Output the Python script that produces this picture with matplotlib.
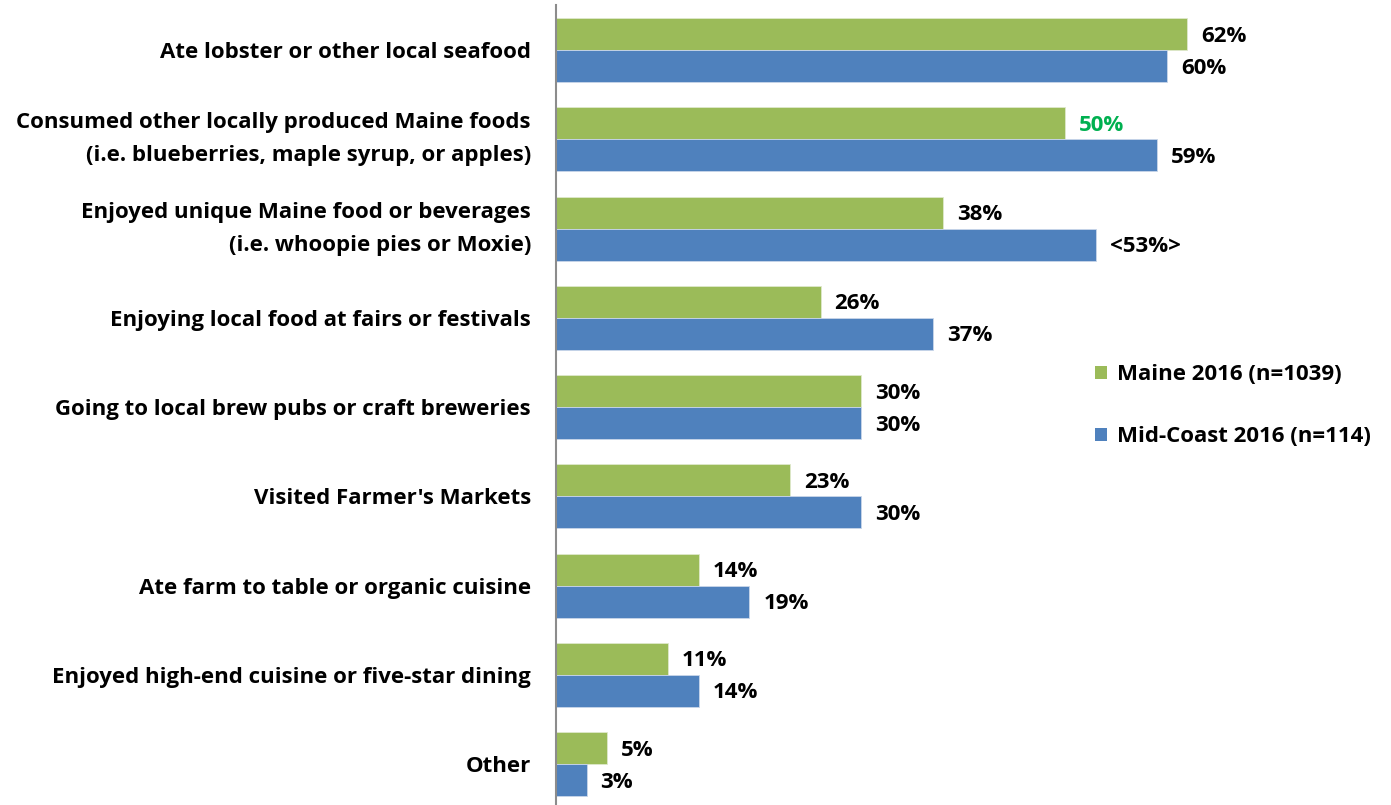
import numpy as np
import matplotlib
matplotlib.use("Agg")
import matplotlib.pyplot as plt
from matplotlib.patches import Patch

plt.rcParams["font.family"] = ["Open Sans", "DejaVu Sans"]
plt.rcParams["font.weight"] = "bold"

# ── data ────────────────────────────────────────────────────────────────────
categories = [
    "Ate lobster or other local seafood",
    "Consumed other locally produced Maine foods\n(i.e. blueberries, maple syrup, or apples)",
    "Enjoyed unique Maine food or beverages\n(i.e. whoopie pies or Moxie)",
    "Enjoying local food at fairs or festivals",
    "Going to local brew pubs or craft breweries",
    "Visited Farmer's Markets",
    "Ate farm to table or organic cuisine",
    "Enjoyed high-end cuisine or five-star dining",
    "Other",
]
maine = [62, 50, 38, 26, 30, 23, 14, 11, 5]
midcoast = [60, 59, 53, 37, 30, 30, 19, 14, 3]
maine_labels = ["62%", "50%", "38%", "26%", "30%", "23%", "14%", "11%", "5%"]
midcoast_labels = ["60%", "59%", "<53%>", "37%", "30%", "30%", "19%", "14%", "3%"]
series_names = ["Maine 2016 (n=1039)", "Mid-Coast 2016 (n=114)"]

GREEN = "#9BBB59"
BLUE = "#4F81BD"
LABEL_GREEN = "#00B050"
FS = 16

# ── figure ──────────────────────────────────────────────────────────────────
fig = plt.figure(figsize=(13.91, 8.05), dpi=100)
ax = fig.add_axes([0.3997, 0.0, 0.6003, 0.9933])

y = np.arange(len(categories))
h = 0.3585
ax.barh(y - h / 2, maine, h, color=GREEN, edgecolor="#dfe8cc", linewidth=0.6)
ax.barh(y + h / 2, midcoast, h, color=BLUE, edgecolor="#c9d6ea", linewidth=0.6)

# value labels just past the bar ends
for i, (v, lab) in enumerate(zip(maine, maine_labels)):
    ax.annotate(lab, (v, i - h / 2), xytext=(10, -1.5), textcoords="offset points",
                ha="left", va="center", fontsize=FS, fontweight="bold",
                color=LABEL_GREEN if lab == "50%" else "black")
for i, (v, lab) in enumerate(zip(midcoast, midcoast_labels)):
    ax.annotate(lab, (v, i + h / 2), xytext=(10, -1.5), textcoords="offset points",
                ha="left", va="center", fontsize=FS, fontweight="bold",
                color="black")

ax.set_xlim(0, 82)
ax.set_ylim(8.459, -0.5)
ax.set_xticks([])
ax.set_yticks(y)
ax.set_yticklabels(categories, fontsize=FS, fontweight="bold",
                   linespacing=1.75, ha="right")
ax.tick_params(axis="y", length=0, pad=18)
for lbl in ax.get_yticklabels():
    if "\n" in lbl.get_text():
        lbl.set_va("center")

for side in ["top", "right", "bottom"]:
    ax.spines[side].set_visible(False)
ax.spines["left"].set_color("#8c8c8c")
ax.spines["left"].set_linewidth(1.5)

handles = [Patch(facecolor=GREEN), Patch(facecolor=BLUE)]
fig.legend(handles, series_names, loc="center left",
           bbox_to_anchor=(0.773, 0.496), frameon=False,
           prop={"size": FS, "weight": "bold"},
           handlelength=0.55, handleheight=0.55, handletextpad=0.45,
           labelspacing=1.85)

fig.savefig("out.png", dpi=100)
